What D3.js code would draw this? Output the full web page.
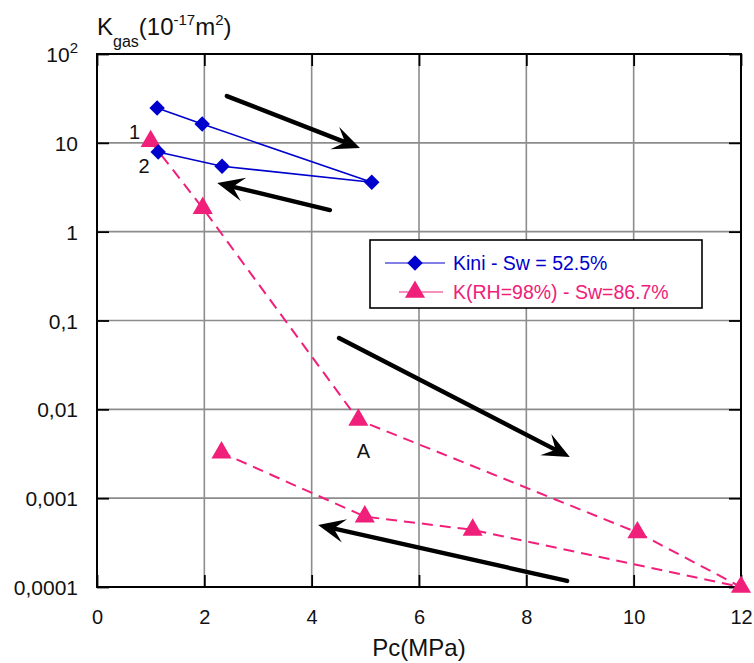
<!DOCTYPE html>
<html><head><meta charset="utf-8">
<script src="https://cdn.jsdelivr.net/npm/d3@7"></script>
<style>body{margin:0;background:#fff} text{font-family:"Liberation Sans",Arial,Helvetica,sans-serif}</style>
</head><body><svg id="c" width="754" height="663"></svg>
<script>
// ---- data ----
const xTicks = [0, 2, 4, 6, 8, 10, 12];
const yTicks = [1e-4, 1e-3, 1e-2, 1e-1, 1, 10, 100];
const yTickLabels = ["0,0001", "0,001", "0,01", "0,1", "1", "10", "10^2"];
const kiniPc = [1.12, 1.96, 5.12, 2.33, 1.14];
const kiniK  = [24.6, 16.3, 3.6, 5.46, 7.9];
const rhPc = [1.0, 1.97, 4.87, 10.07, 12, 7.0, 4.99, 2.32];
const rhK  = [10.4, 1.84, 0.0076, 0.00041, 0.0001, 0.00044, 0.00062, 0.00326];
const seriesNames = ["Kini - Sw = 52.5%", "K(RH=98%) - Sw=86.7%"];
const arrowFromPc = [2.42, 4.34, 4.51, 8.76];
const arrowFromK  = [33.6, 1.75, 0.0635, 0.000117];
const arrowToPc   = [4.90, 2.24, 8.81, 4.12];
const arrowToK    = [8.75, 3.53, 0.0029, 0.0005];
const pointLabels = ["1", "2", "A"];

// ---- chart ----
const svg = d3.select("#c");
const L = 97, R = 741, T = 54, B = 587;
const x = d3.scaleLinear().domain([0, 12]).range([L, R]);
const y = d3.scaleLog().domain([1e-4, 1e2]).range([B, T]);
const blue = "#0000cc", pink = "#f0207a";
const font = '"Liberation Sans",Arial,sans-serif';

// grid
const g = svg.append("g");
g.selectAll(".vg").data(xTicks.slice(1, -1)).join("line")
  .attr("x1", d => x(d)).attr("x2", d => x(d)).attr("y1", T).attr("y2", B)
  .attr("stroke", "#8c8c8c").attr("stroke-width", 1.6);
g.selectAll(".hg").data(yTicks.slice(1, -1)).join("line")
  .attr("x1", L).attr("x2", R).attr("y1", d => y(d)).attr("y2", d => y(d))
  .attr("stroke", "#8c8c8c").attr("stroke-width", 1.6);

// axes with inward ticks
const tk = 12;
const axB = svg.append("g").attr("transform", `translate(0,${B})`)
  .call(d3.axisBottom(x).tickValues(xTicks).tickSize(-tk).tickPadding(23).tickFormat(d3.format("d")));
const axT = svg.append("g").attr("transform", `translate(0,${T})`)
  .call(d3.axisTop(x).tickValues(xTicks).tickSize(-tk).tickFormat(""));
const axL = svg.append("g").attr("transform", `translate(${L},0)`)
  .call(d3.axisLeft(y).tickValues(yTicks).tickSize(-tk).tickPadding(20).tickFormat(""));
const axR = svg.append("g").attr("transform", `translate(${R},0)`)
  .call(d3.axisRight(y).tickValues(yTicks).tickSize(-tk).tickFormat(""));
[axB, axT, axL, axR].forEach(a => {
  a.select(".domain").remove();
  a.selectAll(".tick line").attr("stroke", "#000").attr("stroke-width", 1.8);
});
axB.selectAll(".tick text").attr("font-size", 20).attr("font-family", font).attr("fill", "#111");

// y tick labels (with superscript)
axL.selectAll(".tick").each(function (d, i) {
  const lab = yTickLabels[i];
  const t = d3.select(this).append("text").attr("x", -19).attr("dy", "0.36em")
    .attr("text-anchor", "end").attr("font-size", 21).attr("font-family", font).attr("fill", "#111");
  if (lab.includes("^")) {
    const [b, e] = lab.split("^");
    t.append("tspan").text(b);
    t.append("tspan").attr("font-size", 15).attr("dy", "-0.6em").text(e);
  } else t.text(lab);
});

// frame
svg.append("rect").attr("x", L).attr("y", T).attr("width", R - L).attr("height", B - T)
  .attr("fill", "none").attr("stroke", "#000").attr("stroke-width", 2);

// axis titles
svg.append("text").attr("x", 419).attr("y", 656).attr("text-anchor", "middle")
  .attr("font-size", 24).attr("font-family", font).attr("fill", "#111").text("Pc(MPa)");
const tt = svg.append("text").attr("x", 97).attr("y", 35).attr("font-size", 24).attr("font-family", font).attr("fill", "#111");
tt.append("tspan").text("K");
tt.append("tspan").attr("font-size", 16).attr("dy", 12).text("gas");
tt.append("tspan").attr("dy", -12).text("(10");
tt.append("tspan").attr("font-size", 15).attr("dy", -10).text("-17");
tt.append("tspan").attr("dy", 10).text("m");
tt.append("tspan").attr("font-size", 15).attr("dy", -10).text("2");
tt.append("tspan").attr("dy", 10).text(")");

// series
const kini = kiniPc.map((p, i) => [p, kiniK[i]]);
const rh = rhPc.map((p, i) => [p, rhK[i]]);
const line = d3.line().x(d => x(d[0])).y(d => y(d[1]));
svg.append("path").attr("d", line(rh)).attr("fill", "none").attr("stroke", pink)
  .attr("stroke-width", 2).attr("stroke-dasharray", "11,7");
svg.append("path").attr("d", line(kini)).attr("fill", "none").attr("stroke", blue).attr("stroke-width", 1.6);

const diamond = d3.symbol().type(d3.symbolSquare).size(120)();
const tri = d3.symbol().type(d3.symbolTriangle).size(175)();
svg.selectAll(".rhm").data(rh).join("path").attr("d", tri)
  .attr("transform", d => `translate(${x(d[0])},${y(d[1])})`).attr("fill", pink);
svg.selectAll(".km").data(kini).join("path").attr("d", diamond)
  .attr("transform", d => `translate(${x(d[0])},${y(d[1])}) rotate(45)`).attr("fill", blue);

// point labels
const labAnchors = [[rh[0], -16, -2], [kini[4], -14, 21], [rh[2], 5, 38]];
labAnchors.forEach((a, i) => {
  svg.append("text").attr("x", x(a[0][0]) + a[1]).attr("y", y(a[0][1]) + a[2])
    .attr("text-anchor", "middle").attr("font-size", 20).attr("font-family", font).attr("fill", "#111")
    .text(pointLabels[i]);
});

// arrows
arrowFromPc.forEach((p, i) => {
  const x1 = x(p), y1 = y(arrowFromK[i]), x2 = x(arrowToPc[i]), y2 = y(arrowToK[i]);
  const ang = Math.atan2(y2 - y1, x2 - x1) * 180 / Math.PI;
  const len = Math.hypot(x2 - x1, y2 - y1);
  const ag = svg.append("g").attr("transform", `translate(${x1},${y1}) rotate(${ang})`);
  ag.append("line").attr("x1", 0).attr("y1", 0).attr("x2", len - 12).attr("y2", 0)
    .attr("stroke", "#000").attr("stroke-width", 4.4).attr("stroke-linecap", "round");
  ag.append("path").attr("d", `M${len},0 L${len - 27},-12 L${len - 16},0 L${len - 27},12 Z`).attr("fill", "#000");
});

// legend
const lg = svg.append("g");
lg.append("rect").attr("x", 370).attr("y", 240).attr("width", 332).attr("height", 68)
  .attr("fill", "#fff").attr("stroke", "#000").attr("stroke-width", 1.6);
const ly = [263, 292];
lg.append("line").attr("x1", 385).attr("x2", 445).attr("y1", ly[0]).attr("y2", ly[0]).attr("stroke", blue).attr("stroke-width", 1);
lg.append("path").attr("d", diamond).attr("transform", `translate(415,${ly[0]}) rotate(45)`).attr("fill", blue);
lg.append("line").attr("x1", 399).attr("x2", 443).attr("y1", ly[1]).attr("y2", ly[1]).attr("stroke", pink).attr("stroke-width", 1);
lg.append("path").attr("d", tri).attr("transform", `translate(415,${ly[1]})`).attr("fill", pink);
seriesNames.forEach((n, i) => {
  lg.append("text").attr("x", 453).attr("y", ly[i]).attr("dy", "0.36em").attr("font-size", 19.5)
    .attr("font-family", font).attr("fill", i ? pink : blue).text(n);
});
</script></body></html>
